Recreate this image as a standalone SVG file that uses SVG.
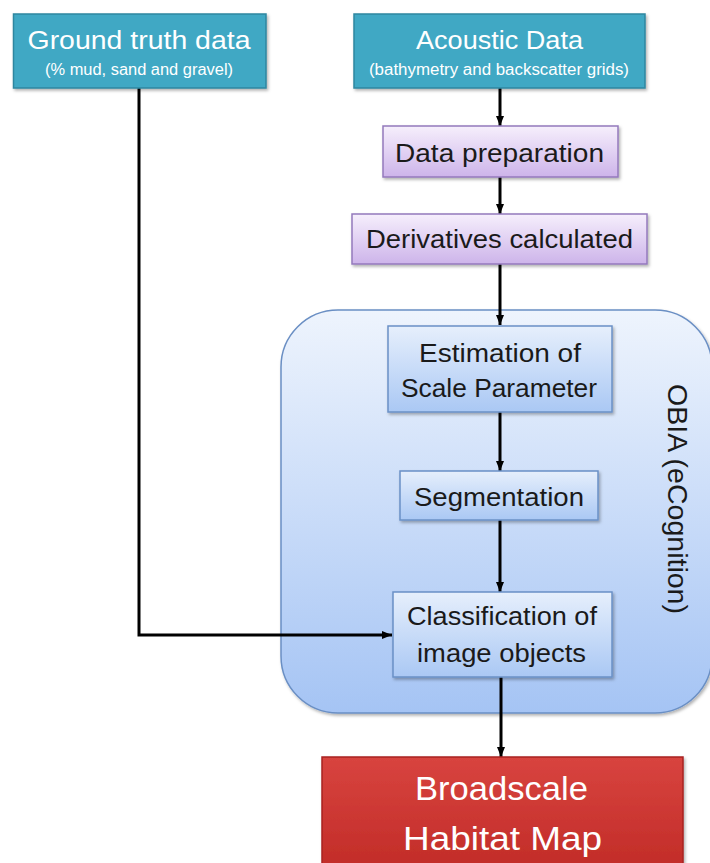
<svg xmlns="http://www.w3.org/2000/svg" width="710" height="863" viewBox="0 0 710 863">
<style>
  text { font-family: "Liberation Sans", "Open Sans", sans-serif; }
  .teal { fill: #40A8C4; stroke: #2F86A0; stroke-width: 1.5; }
  .purple { fill: url(#gPurple); stroke: #9479BC; stroke-width: 1.5; }
  .blue { fill: url(#gBlue); stroke: #6A90C6; stroke-width: 1.5; }
  .wt { fill: #FFFFFF; text-anchor: middle; }
  .dk { fill: #1A1A1A; text-anchor: middle; font-size: 25px; }
  .conn { fill: none; stroke: #000000; stroke-width: 3; marker-end: url(#arr); }
</style>
<defs>
  <linearGradient id="gPurple" x1="0" y1="0" x2="0" y2="1">
    <stop offset="0" stop-color="#F6EFFC"/>
    <stop offset="1" stop-color="#CDB4EA"/>
  </linearGradient>
  <linearGradient id="gBlue" x1="0" y1="0" x2="0" y2="1">
    <stop offset="0" stop-color="#E6EFFC"/>
    <stop offset="1" stop-color="#AAC8F4"/>
  </linearGradient>
  <linearGradient id="gCont" x1="0" y1="0" x2="0" y2="1">
    <stop offset="0" stop-color="#EEF4FD"/>
    <stop offset="1" stop-color="#A5C4F4"/>
  </linearGradient>
  <linearGradient id="gRed" x1="0" y1="0" x2="0" y2="1">
    <stop offset="0" stop-color="#D8443F"/>
    <stop offset="1" stop-color="#C02A26"/>
  </linearGradient>
  <filter id="sh" x="-10%" y="-10%" width="125%" height="130%">
    <feDropShadow dx="1.5" dy="2" stdDeviation="1.5" flood-color="#000" flood-opacity="0.3"/>
  </filter>
  <marker id="arr" markerWidth="10" markerHeight="10" viewBox="0 0 10 10" refX="10" refY="5" orient="auto" markerUnits="userSpaceOnUse">
    <path d="M0,1 L10,5 L0,9 Z" fill="#000000"/>
  </marker>
</defs>

<rect width="710" height="863" fill="#FFFFFF"/>

<g id="obia-container">
  <rect x="281" y="310" width="431" height="403" rx="57" ry="57" fill="url(#gCont)" stroke="#6A8FC4" stroke-width="1.5" filter="url(#sh)"/>
  <text transform="translate(668,499) rotate(90)" x="0" y="0" text-anchor="middle" font-size="28" fill="#1A1A1A" textLength="230" lengthAdjust="spacingAndGlyphs">OBIA  (eCognition)</text>
</g>

<g id="connectors">
  <path class="conn" d="M139,88 V635 H392"/>
  <path class="conn" d="M500,88 V126"/>
  <path class="conn" d="M500,177 V214"/>
  <path class="conn" d="M500,264 V325"/>
  <path class="conn" d="M500,412 V471"/>
  <path class="conn" d="M500,520 V592"/>
  <path class="conn" d="M501,677 V757"/>
</g>

<g id="ground-truth">
  <rect class="teal" x="13.5" y="14" width="252.5" height="74" filter="url(#sh)"/>
  <text class="wt" x="139" y="49" font-size="25" textLength="223" lengthAdjust="spacingAndGlyphs">Ground truth data</text>
  <text class="wt" x="139" y="75" font-size="16" textLength="188" lengthAdjust="spacingAndGlyphs">(% mud, sand and gravel)</text>
</g>

<g id="acoustic-data">
  <rect class="teal" x="354" y="14" width="291" height="74" filter="url(#sh)"/>
  <text class="wt" x="499.5" y="49" font-size="25" textLength="167" lengthAdjust="spacingAndGlyphs">Acoustic Data</text>
  <text class="wt" x="499" y="75" font-size="16" textLength="260" lengthAdjust="spacingAndGlyphs">(bathymetry and backscatter grids)</text>
</g>

<g id="data-preparation">
  <rect class="purple" x="383" y="126" width="235" height="51" filter="url(#sh)"/>
  <text class="dk" x="499.5" y="162" textLength="209" lengthAdjust="spacingAndGlyphs">Data preparation</text>
</g>

<g id="derivatives">
  <rect class="purple" x="352" y="214" width="295" height="50" filter="url(#sh)"/>
  <text class="dk" x="499.5" y="248" textLength="267" lengthAdjust="spacingAndGlyphs">Derivatives calculated</text>
</g>

<g id="estimation">
  <rect class="blue" x="388" y="326" width="224" height="86" filter="url(#sh)"/>
  <text class="dk" x="500" y="362" textLength="162" lengthAdjust="spacingAndGlyphs">Estimation of</text>
  <text class="dk" x="499" y="397" textLength="196" lengthAdjust="spacingAndGlyphs">Scale Parameter</text>
</g>

<g id="segmentation">
  <rect class="blue" x="400" y="471" width="198" height="49" filter="url(#sh)"/>
  <text class="dk" x="499" y="506" textLength="170" lengthAdjust="spacingAndGlyphs">Segmentation</text>
</g>

<g id="classification">
  <rect class="blue" x="393" y="592" width="219" height="85" filter="url(#sh)"/>
  <text class="dk" x="502" y="625" textLength="190" lengthAdjust="spacingAndGlyphs">Classification of</text>
  <text class="dk" x="501.5" y="662" textLength="169" lengthAdjust="spacingAndGlyphs">image objects</text>
</g>

<g id="habitat-map">
  <rect x="322" y="757" width="361" height="120" fill="url(#gRed)" stroke="#A8231F" stroke-width="1.5" filter="url(#sh)"/>
  <text class="wt" x="501.5" y="800" font-size="34" textLength="173" lengthAdjust="spacingAndGlyphs">Broadscale</text>
  <text class="wt" x="502.5" y="850" font-size="34" textLength="199" lengthAdjust="spacingAndGlyphs">Habitat Map</text>
</g>
</svg>
